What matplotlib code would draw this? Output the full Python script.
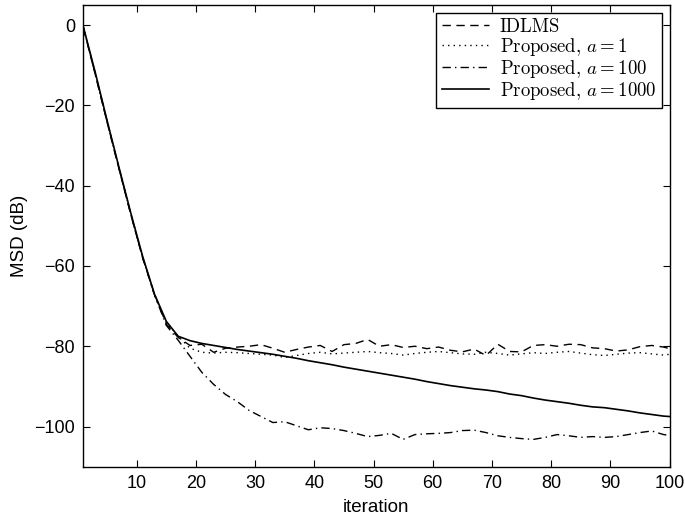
import matplotlib
matplotlib.use("Agg")
import matplotlib.pyplot as plt

plt.rcParams['font.family'] = ['Liberation Sans', 'DejaVu Sans']
plt.rcParams['mathtext.fontset'] = 'cm'

iters = [1, 3, 5, 7, 9, 11, 13, 15, 17, 19, 21, 23, 25, 27, 29, 31, 33, 35, 37, 39,
         41, 43, 45, 47, 49, 51, 53, 55, 57, 59, 61, 63, 65, 67, 69, 71, 73, 75, 77, 79,
         81, 83, 85, 87, 89, 91, 93, 95, 97, 99, 100]

msd_idlms = [-0.8, -12.3, -24.2, -35.8, -47.2, -58.0, -67.0, -74.5, -77.8, -79.8,
             -79.5, -81.5, -80.5, -80.2, -80.0, -79.6, -80.5, -81.5, -80.8, -80.2,
             -79.8, -81.3, -79.6, -79.3, -78.3, -80.0, -79.6, -80.3, -80.0, -80.6,
             -80.2, -81.0, -81.4, -80.7, -82.3, -79.5, -81.3, -81.4, -79.8, -79.6,
             -80.0, -79.5, -79.6, -80.4, -80.6, -81.2, -80.9, -80.1, -79.8, -80.2, -80.6]

msd_a1 = [-0.6, -12.0, -24.0, -35.5, -47.0, -57.8, -67.3, -74.0, -77.5, -80.5,
          -81.5, -81.7, -81.5, -81.6, -81.8, -82.0, -82.2, -82.8, -82.3, -81.8,
          -81.5, -81.9, -81.7, -81.5, -81.3, -81.6, -81.8, -82.2, -81.8, -81.5,
          -81.3, -81.6, -81.9, -82.0, -81.5, -81.8, -82.2, -81.9, -81.6, -81.8,
          -81.5, -81.3, -81.7, -82.1, -82.3, -82.0, -81.7, -81.6, -81.9, -82.2, -82.0]

msd_a100 = [-0.7, -12.2, -24.1, -35.7, -47.1, -57.9, -67.2, -74.8, -78.5, -82.5,
            -86.5, -89.5, -92.0, -93.8, -96.0, -97.5, -99.0, -98.8, -99.8, -100.8,
            -100.3, -100.5, -101.0, -101.7, -102.5, -102.2, -101.7, -103.2, -102.0, -101.8,
            -101.7, -101.5, -101.0, -100.9, -101.5, -102.3, -102.7, -103.0, -103.2, -102.7,
            -102.0, -102.3, -102.7, -102.5, -102.7, -102.5, -102.0, -101.5, -101.1, -102.0, -102.2]

msd_a1000 = [-0.5, -11.8, -23.8, -35.4, -46.8, -57.6, -67.0, -73.8, -77.5, -78.6,
             -79.3, -79.8, -80.3, -80.8, -81.2, -81.6, -82.0, -82.5, -83.0, -83.6,
             -84.1, -84.6, -85.2, -85.7, -86.2, -86.7, -87.2, -87.7, -88.2, -88.8,
             -89.3, -89.8, -90.2, -90.6, -90.9, -91.3, -91.9, -92.3, -92.9, -93.4,
             -93.8, -94.2, -94.7, -95.1, -95.3, -95.7, -96.1, -96.6, -97.0, -97.4, -97.5]

labels = ['IDLMS',
          'Proposed, $a=1$',
          'Proposed, $a=100$',
          'Proposed, $a=1000$']

xticks = [10, 20, 30, 40, 50, 60, 70, 80, 90, 100]
yticks = [0, -20, -40, -60, -80, -100]

fig = plt.figure(figsize=(6.85, 5.17), dpi=100)
ax = fig.add_axes([0.1218, 0.0973, 0.8556, 0.893])

ax.plot(iters, msd_idlms, color='black', lw=1.0, linestyle=(0, (6, 4)), label=labels[0])
ax.plot(iters, msd_a1, color='black', lw=1.0, linestyle=(0, (1, 3)), label=labels[1])
ax.plot(iters, msd_a100, color='black', lw=1.0, linestyle=(0, (6, 3, 1, 3)), label=labels[2])
ax.plot(iters, msd_a1000, color='black', lw=1.2, linestyle='-', label=labels[3])

ax.set_xlim(1, 100)
ax.set_ylim(-110, 5)
ax.set_xticks(xticks)
ax.set_yticks(yticks)
ax.tick_params(direction='in', length=5, width=0.8, top=True, right=True,
               labelsize=13, pad=6)
for s in ax.spines.values():
    s.set_linewidth(1.0)

ax.set_xlabel('iteration', fontsize=13.5)
ax.set_ylabel('MSD (dB)', fontsize=13.5)
ax.xaxis.set_label_coords(0.5, -0.07)
ax.yaxis.set_label_coords(-0.095, 0.5)

leg = ax.legend(loc='upper right', prop={'family': 'cmr10', 'size': 13.5},
                frameon=True, fancybox=False,
                edgecolor='black', framealpha=1, handlelength=2.5,
                labelspacing=0.0, borderpad=0.3, handletextpad=0.6,
                borderaxespad=0.4)
leg.get_frame().set_linewidth(1.0)

fig.savefig('out.png', dpi=100)
